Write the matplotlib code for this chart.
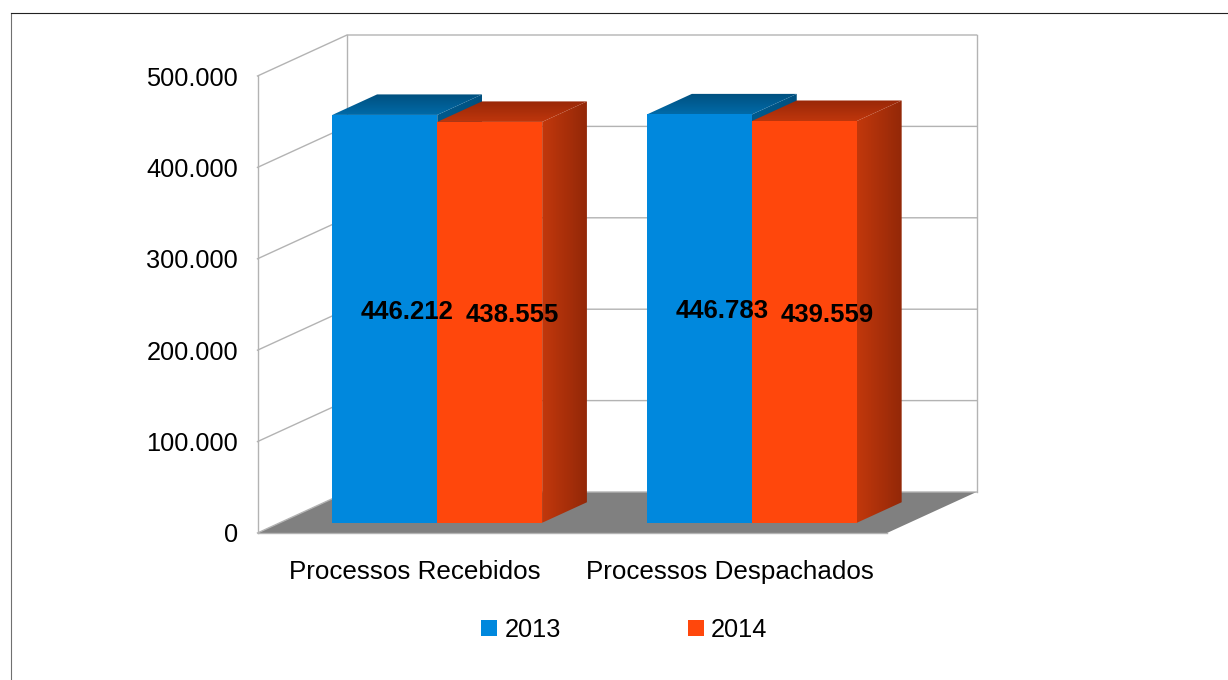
import matplotlib

matplotlib.use("Agg")
import matplotlib.pyplot as plt
import numpy as np
from matplotlib.lines import Line2D
from matplotlib.patches import Patch, Polygon


CATEGORIES = ["Processos Recebidos", "Processos Despachados"]
YEARS = ["2013", "2014"]
VALUES_2013 = [446212, 446783]
VALUES_2014 = [438555, 439559]
Y_TICKS = [0, 100000, 200000, 300000, 400000, 500000]

WIDTH, HEIGHT = 1228, 680
BLUE = "#0088dd"
ORANGE = "#ff470c"
GRID = "#b3b3b3"
FLOOR = "#808080"
# side and top shading, light end first
BLUE_SIDE = ("#005a8e", "#00507f")
BLUE_TOP = ("#006aa8", "#00507f")
ORANGE_SIDE = ("#c2380c", "#932808")
ORANGE_TOP = ("#bf360c", "#992808")

# oblique depth of the box, in data units per unit of depth
DEPTH_X = 89.5 / 314.75
DEPTH_Y = 41 / 457 * 500000
BAR_W = 1 / 3

plt.rcParams["font.family"] = ["Liberation Sans", "DejaVu Sans"]
FS = 18.3


def fmt(v):
    return f"{v:,}".replace(",", ".")


def pt(x, y, d=0.0):
    return (x + d * DEPTH_X, y + d * DEPTH_Y)


def shaded(ax, corners, colors, horizontal, zorder):
    # gradient image clipped to a parallelogram
    xs = [c[0] for c in corners]
    ys = [c[1] for c in corners]
    rgb = np.array([matplotlib.colors.to_rgb(c) for c in colors])
    t = np.linspace(0, 1, 64)
    ramp = rgb[0] + (rgb[1] - rgb[0]) * t[:, None]
    img = ramp[None, :, :] if horizontal else ramp[:, None, :]
    im = ax.imshow(img, extent=(min(xs), max(xs), min(ys), max(ys)), aspect="auto",
                   origin="lower", interpolation="bilinear", zorder=zorder)
    poly = Polygon(corners, closed=True, transform=ax.transData, fill=False,
                   edgecolor="none", clip_on=False)
    ax.add_patch(poly)
    im.set_clip_box(ax.figure.bbox)
    im.set_clip_path(poly)


def draw_box(ax, left, value, front, side, top, zorder):
    d0, d1 = 0.25, 0.75
    right = left + BAR_W
    shaded(ax, [pt(right, 0, d0), pt(right, 0, d1), pt(right, value, d1), pt(right, value, d0)],
           side, True, zorder)
    shaded(ax, [pt(left, value, d0), pt(right, value, d0), pt(right, value, d1), pt(left, value, d1)],
           top, False, zorder + 0.1)
    ax.add_patch(Polygon([pt(left, 0, d0), pt(right, 0, d0), pt(right, value, d0), pt(left, value, d0)],
                         closed=True, facecolor=front, edgecolor="none", zorder=zorder + 0.2))


def main():
    fig = plt.figure(figsize=(WIDTH / 100, HEIGHT / 100), dpi=100, facecolor="white")
    ax = fig.add_axes([257.5 / WIDTH, 1 - 533 / HEIGHT, 629.5 / WIDTH, 457 / HEIGHT])
    ax.set_facecolor("none")
    for s in ax.spines.values():
        s.set_visible(False)

    # floor
    ax.add_patch(Polygon([pt(0, 0), pt(2, 0), pt(2, 0, 1), pt(0, 0, 1)], closed=True,
                         facecolor=FLOOR, edgecolor="none", zorder=1, clip_on=False))

    # walls and grid
    top_val = Y_TICKS[-1]
    wall = dict(color=GRID, lw=1.0, zorder=1.5, clip_on=False, solid_capstyle="projecting")
    for v in Y_TICKS:
        ax.plot(*zip(pt(0, v), pt(0, v, 1), pt(2, v, 1)), **wall)
    ax.plot(*zip(pt(0, 0), pt(2, 0)), **wall)
    ax.plot(*zip(pt(0, 0), pt(0, top_val)), **wall)
    ax.plot(*zip(pt(0, 0, 1), pt(0, top_val, 1)), **wall)
    ax.plot(*zip(pt(2, 0, 1), pt(2, top_val, 1)), **wall)

    # bars
    styles = [(VALUES_2013, BLUE, BLUE_SIDE, BLUE_TOP), (VALUES_2014, ORANGE, ORANGE_SIDE, ORANGE_TOP)]
    for i in range(len(CATEGORIES)):
        start = i + 0.5 - BAR_W
        for j, (vals, front, side, top) in enumerate(styles):
            draw_box(ax, start + j * BAR_W, vals[i], front, side, top, 2 + j)

    # value labels sit at the middle of each box, halfway through its depth
    for i in range(len(CATEGORIES)):
        start = i + 0.5 - BAR_W
        for j, (vals, _, _, _) in enumerate(styles):
            x, y = pt(start + (j + 0.5) * BAR_W, vals[i] / 2, 0.5)
            ax.annotate(fmt(vals[i]), (x, y), xytext=(0, -2.2), textcoords="offset points",
                        ha="center", va="center", fontsize=18.5, fontweight="bold",
                        color="black", zorder=6)

    ax.set_xlim(0, 2)
    ax.set_ylim(0, top_val)
    ax.set_xticks([0.5, 1.5], CATEGORIES)
    ax.set_yticks(Y_TICKS, [fmt(v) for v in Y_TICKS])
    ax.tick_params(axis="both", length=0, labelcolor="black")
    ax.tick_params(axis="x", pad=19.4, labelsize=18.75)
    ax.tick_params(axis="y", pad=14, labelsize=FS)

    handles = [Patch(facecolor=BLUE, label=YEARS[0]), Patch(facecolor=ORANGE, label=YEARS[1])]
    fig.legend(handles=handles, ncol=2, loc="center", bbox_to_anchor=(624.5 / WIDTH, 1 - 630 / HEIGHT),
               frameon=False, fontsize=FS, handlelength=0.63, handleheight=0.63,
               handletextpad=0.28, columnspacing=5.0, borderpad=0)

    # outer frame, open towards the bottom right
    fig.add_artist(Line2D([10.5 / WIDTH, 10.5 / WIDTH], [0, 1 - 12.5 / HEIGHT], color="#707070", lw=0.8))
    fig.add_artist(Line2D([10.5 / WIDTH, 1], [1 - 12.5 / HEIGHT, 1 - 12.5 / HEIGHT], color="#222222", lw=0.8))

    fig.savefig("out.png", dpi=100)
    plt.close(fig)


if __name__ == "__main__":
    main()
